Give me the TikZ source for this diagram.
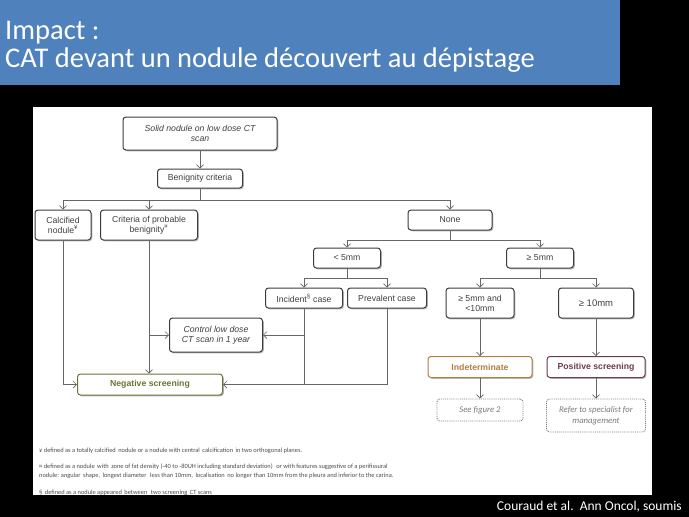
\documentclass[tikz,border=0pt]{standalone}
\usepackage{fontspec}
\usepackage{tikz}
\usetikzlibrary{arrows.meta,positioning,shadows}
\setmainfont{Liberation Sans}
\newfontfamily\calfont{Carlito}
\definecolor{slideblue}{HTML}{4F81BD}
\definecolor{boxline}{HTML}{3C3C3C}
\definecolor{boxtext}{HTML}{404040}
\definecolor{wirecol}{HTML}{666666}
\definecolor{negcol}{HTML}{6F7238}
\definecolor{indcol}{HTML}{B0803F}
\definecolor{poscol}{HTML}{6E3A4C}
\definecolor{notecol}{HTML}{7A7A7A}

\begin{document}
\begin{tikzpicture}[
  x=1pt, y=-1pt, font=\fontsize{8.7}{10}\selectfont, >={Straight Barb[length=3.5pt,width=7pt]},
  box/.style={draw=boxline,line width=1pt,rounded corners=3pt,fill=white,text=boxtext,align=center,inner sep=1pt,
    drop shadow={shadow xshift=1.3pt,shadow yshift=-1.3pt,fill=black!60,opacity=.45}},
  wh/.style 2 args={minimum width=#1pt,minimum height=#2pt},
  negbox/.style={box,draw=negcol,text=negcol,font=\fontsize{8.7}{10}\selectfont\bfseries},
  indbox/.style={box,draw=indcol,text=indcol,font=\fontsize{8.7}{10}\selectfont\bfseries},
  posbox/.style={box,draw=poscol,text=poscol,font=\fontsize{8.7}{10}\selectfont\bfseries},
  notebox/.style={draw=notecol,densely dotted,line width=.9pt,rounded corners=3pt,fill=white,text=notecol,align=center,
    inner sep=1pt,font=\calfont\itshape\fontsize{8.7}{11}\selectfont},
  wire/.style={draw=wirecol,line width=.7pt},
  footnote/.style={anchor=base west,inner sep=0,text=black!70,font=\calfont\fontsize{6.4}{7}\selectfont}]
% slide background
\fill[black] (0,0) rectangle (689,517);
\fill[slideblue] (0,0) rectangle (620,85);
\fill[white] (33,107) rectangle (652,495);
\node[anchor=base west,inner sep=0,text=white,font=\calfont\fontsize{28.5}{32}\selectfont] (ttlA) at (5,39) {Impact :};
\node[anchor=base west,inner sep=0,text=white,font=\calfont\fontsize{28.5}{32}\selectfont] (ttlB) at (5,67) {CAT devant un nodule découvert au dépistage};
\node[anchor=base east,inner sep=0,text=white,font=\calfont\fontsize{13.5}{16}\selectfont] (cite) at (682,510) {Couraud et al.\ \ Ann Oncol, soumis};
% boxes
\node[box,wh={154}{33},font=\fontsize{8.7}{10}\selectfont\itshape] (solid) at (200,133.5) {Solid nodule on low dose CT\\scan};
\node[box,wh={85}{19}] (benign) at (200,178.5) {Benignity criteria};
\node[box,wh={56}{30}] (calc) at (63,225) {Calcified\\nodule\textsuperscript{¥}};
\node[box,wh={97}{30}] (crit) at (149,225) {Criteria of probable\\benignity\textsuperscript{¤}};
\node[box,wh={84}{20}] (none) at (450,220) {None};
\node[box,wh={67}{20}] (lt5) at (347,258) {< 5mm};
\node[box,wh={67}{20}] (ge5) at (540,258) {≥ 5mm};
\node[box,wh={77}{20}] (incid) at (304,298) {Incident\textsuperscript{§} case};
\node[box,wh={79}{20}] (prev) at (387,298) {Prevalent case};
\node[box,wh={68}{30}] (mid) at (480,303) {≥ 5mm and\\<10mm};
\node[box,wh={75}{30},font=\fontsize{9.5}{11}\selectfont] (ge10) at (596,303) {≥ 10mm};
\node[box,wh={93}{34},font=\fontsize{8.7}{10}\selectfont\itshape] (ctrl) at (216,335) {Control low dose\\CT scan in 1 year};
\node[negbox,wh={145}{21}] (neg) at (150,384.5) {Negative screening};
\node[indbox,wh={104}{21}] (indet) at (480,367) {Indeterminate};
\node[posbox,wh={98}{21}] (pos) at (596,367) {Positive screening};
\node[notebox,wh={86}{22}] (fig2) at (480,410) {See figure 2};
\node[notebox,wh={99}{33}] (refer) at (596,415.5) {Refer to specialist for\\management};
% connectors
\draw[wire,->] (solid) -- (benign);
\draw[wire,->] (benign.south) -- ++(0,11.5) -| (calc);
\draw[wire,->] (benign.south) -- ++(0,11.5) -| (crit);
\draw[wire,->] (benign.south) -- ++(0,11.5) -| (none);
\draw[wire,->] (none.south) -- ++(0,10) -| (lt5);
\draw[wire,->] (none.south) -- ++(0,10) -| (ge5);
\draw[wire,->] (lt5.south) -- ++(0,10) -| (incid);
\draw[wire,->] (lt5.south) -- ++(0,10) -| (prev);
\draw[wire,->] (ge5.south) -- ++(0,10) -| (mid);
\draw[wire,->] (ge5.south) -- ++(0,10) -| (ge10);
\draw[wire,->] (calc) |- (neg);
\draw[wire,->] (crit) -- (neg.north -| crit);
\draw[wire,->] (crit |- ctrl) -- (ctrl);
\draw[wire,->] (incid) |- (neg);
\draw[wire,->] (incid |- ctrl) -- (ctrl);
\draw[wire] (prev) |- (incid |- neg);
\draw[wire,->] (mid) -- (indet);
\draw[wire,->] (ge10) -- (pos);
\draw[wire,->] (indet) -- (fig2);
\draw[wire,->] (pos) -- (refer);
% footnotes
\begin{scope}
\clip (33,107) rectangle (652,495);
\node[footnote] (fnA) at (39,452) {¥ defined as a totally calcified\, nodule or a nodule with central\, calcification\, in two orthogonal planes.};
\node[footnote] (fnB) at (39,468) {¤ defined as a nodule\, with\, zone of fat density (-40 to -80UH including standard deviation)\,\, or with features suggestive of a perifissural};
\node[footnote] (fnC) at (39,477) {nodule: angular\, shape,\, longest diameter\,\, less than 10mm,\, localisation\, no longer than 10mm from the pleura and inferior to the carina.};
\node[footnote] (fnD) at (39,494) {§\, defined as a nodule appeared\, between\,\, two screening\, CT scans};
\end{scope}
\end{tikzpicture}
\end{document}
